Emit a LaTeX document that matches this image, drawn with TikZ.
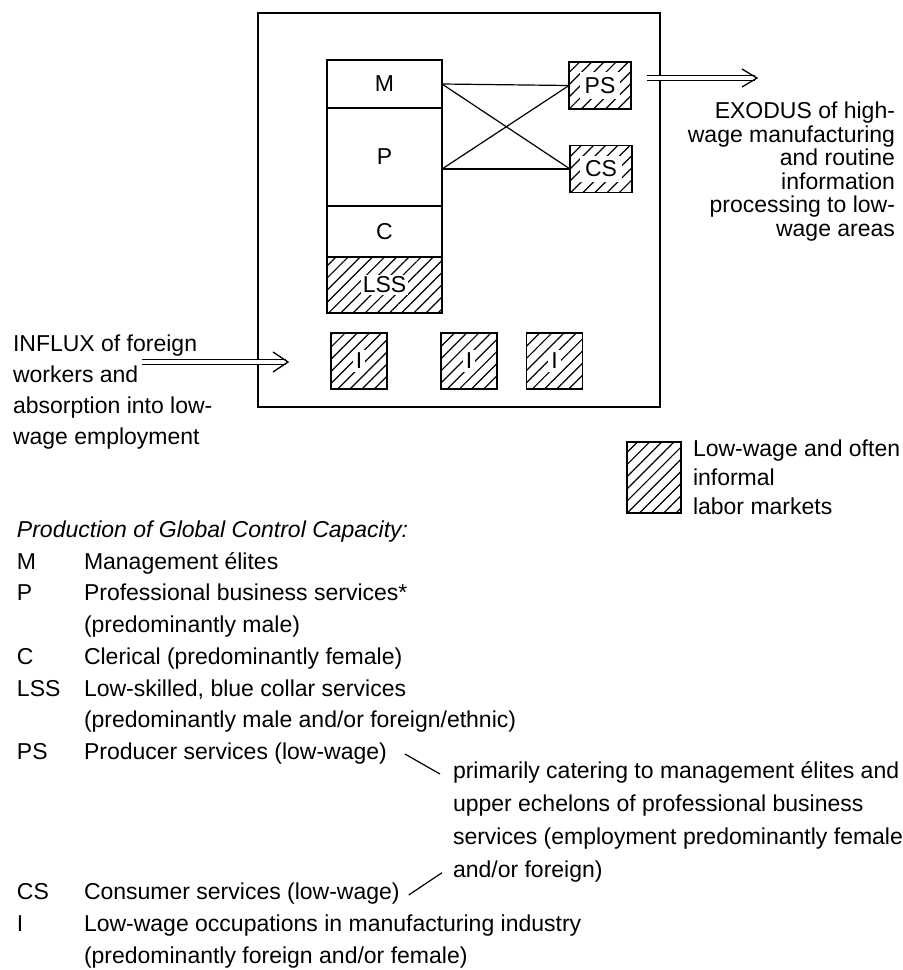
\documentclass[tikz,border=0pt]{standalone}
\usepackage{fontspec}
\setmainfont{Liberation Sans}
\usetikzlibrary{arrows.meta,positioning,fit,calc,patterns.meta}

\newcommand{\keyfont}{\fontsize{11.5}{16}\selectfont}
\newcommand{\clearlabel}[2][1.5pt]{{\setlength\fboxsep{#1}\colorbox{white}{#2}}}

\begin{document}
\begin{tikzpicture}[
    x=0.5pt, y=-0.5pt,
    every node/.style={inner sep=0pt, outer sep=0pt, font=\keyfont},
    layer/.style={rectangle, draw, line width=0.6pt, minimum width=57.5pt, text centered},
    hatched/.style={rectangle, draw, line width=0.8pt, pattern={Lines[angle=45,distance=4.3pt,line width=0.6pt]}},
    link/.style={line width=0.6pt},
    flow/.style={double, double distance=2pt, line width=0.55pt},
    flowhead/.style={line width=0.65pt, line join=miter},
    keytext/.style={anchor=base west}
]
\useasboundingbox (0,0) rectangle (902,970);

% City labour market
\node[draw, line width=1pt, minimum width=201pt, minimum height=197pt] (city) at (459,210) {};

% Occupational stack
\node[layer, minimum height=24pt] (M) at (384.5,84) {M};
\node[layer, minimum height=49pt, below=0pt of M] (P) {P};
\node[layer, minimum height=25.5pt, below=0pt of P] (C) {C};
\node[layer, hatched, minimum height=28pt, below=0pt of C] (LSS) {\clearlabel[1pt]{LSS}};
\node[fit=(M)(LSS), draw, line width=1pt] (stack) {};

% Low-wage services
\node[hatched, minimum width=31pt, minimum height=23.5pt] (PS) at (600,85.5) {\clearlabel[2.5pt]{PS}};
\node[hatched, minimum width=31pt, minimum height=23.5pt] (CS) at (601,169) {\clearlabel[2.5pt]{CS}};

% Low-wage manufacturing
\node[hatched, minimum size=28pt] (I1) at (359,361) {\clearlabel{I}};
\node[hatched, minimum size=28pt] (I2) at (469,361) {\clearlabel{I}};
\node[hatched, minimum size=28pt] (I3) at (554.5,361) {\clearlabel{I}};

% Demand links
\coordinate (p_out) at (P.east |- CS.west);
\draw[link] (M.east) -- (PS.west);
\draw[link] (M.east) -- (CS.west);
\draw[link] (p_out) -- (PS.west);
\draw[link] (p_out) -- (CS.west);

% Flows in and out
\coordinate (influx_tail) at (142,362);
\coordinate (influx_head) at (288,362);
\draw[flow] (influx_tail) -- ($(influx_head)+(-2,0)$);
\draw[flowhead] ($(influx_head)+(-15,-10)$) -- (influx_head) -- ($(influx_head)+(-15,10)$);
\coordinate (exodus_tail) at (647,78);
\coordinate (exodus_head) at (757,78);
\draw[flow] (exodus_tail) -- ($(exodus_head)+(-2,0)$);
\draw[flowhead] ($(exodus_head)+(-15,-9)$) -- (exodus_head) -- ($(exodus_head)+(-15,9)$);

\node[anchor=north east, align=right, font=\fontsize{11.5}{11.75}\selectfont] (exodus_text) at (895,102) {EXODUS of high-\\wage manufacturing\\and routine\\information\\processing to low-\\wage areas};
\node[anchor=north west, align=left, font=\fontsize{11.5}{15.5}\selectfont] (influx_text) at (13,335) {INFLUX of foreign\\workers and\\absorption into low-\\wage employment};

% Hatching key
\node[hatched, minimum width=27pt, minimum height=35.5pt] (key_box) at (654,477.5) {};
\node[anchor=north west, align=left, font=\fontsize{11.5}{14.5}\selectfont] (key_box_text) at ([xshift=6pt,yshift=1pt]key_box.north east) {Low-wage and often\\informal\\labor markets};

% Key to the abbreviations
\node[anchor=base west, font=\itshape\keyfont] (key_title) at (17,537) {Production of Global Control Capacity:};
\node[keytext] (key_m) at (17,569) {M};
\node[keytext] (key_m_text) at (84,569) {Management élites};
\node[keytext] (key_p) at (17,600) {P};
\node[keytext] (key_p_text) at (84,600) {Professional business services*};
\node[keytext] (key_p_more) at (84,632) {(predominantly male)};
\node[keytext] (key_c) at (17,664) {C};
\node[keytext] (key_c_text) at (84,664) {Clerical (predominantly female)};
\node[keytext] (key_lss) at (17,696) {LSS};
\node[keytext] (key_lss_text) at (84,696) {Low-skilled, blue collar services};
\node[keytext] (key_lss_more) at (84,727) {(predominantly male and/or foreign/ethnic)};
\node[keytext] (key_ps) at (17,759) {PS};
\node[keytext] (key_ps_text) at (84,759) {Producer services (low-wage)};
\node[keytext] (key_cs) at (17,899) {CS};
\node[keytext] (key_cs_text) at (84,899) {Consumer services (low-wage)};
\node[keytext] (key_i) at (17,931) {I};
\node[keytext] (key_i_text) at (84,931) {Low-wage occupations in manufacturing industry};
\node[keytext] (key_i_more) at (84,963) {(predominantly foreign and/or female)};

% Note shared by PS and CS
\node[anchor=north west, align=left, font=\fontsize{11.5}{16.5}\selectfont] (note) at (453,762) {primarily catering to management élites and\\upper echelons of professional business\\services (employment predominantly female\\and/or foreign)};
\draw[link] ($(key_ps_text.base east)+(18,-5)$) -- ($(note.north west)+(-13,12)$);
\draw[link] ($(key_cs_text.base east)+(9,-4)$) -- ($(note.south west)+(-11,-10)$);

\end{tikzpicture}
\end{document}
